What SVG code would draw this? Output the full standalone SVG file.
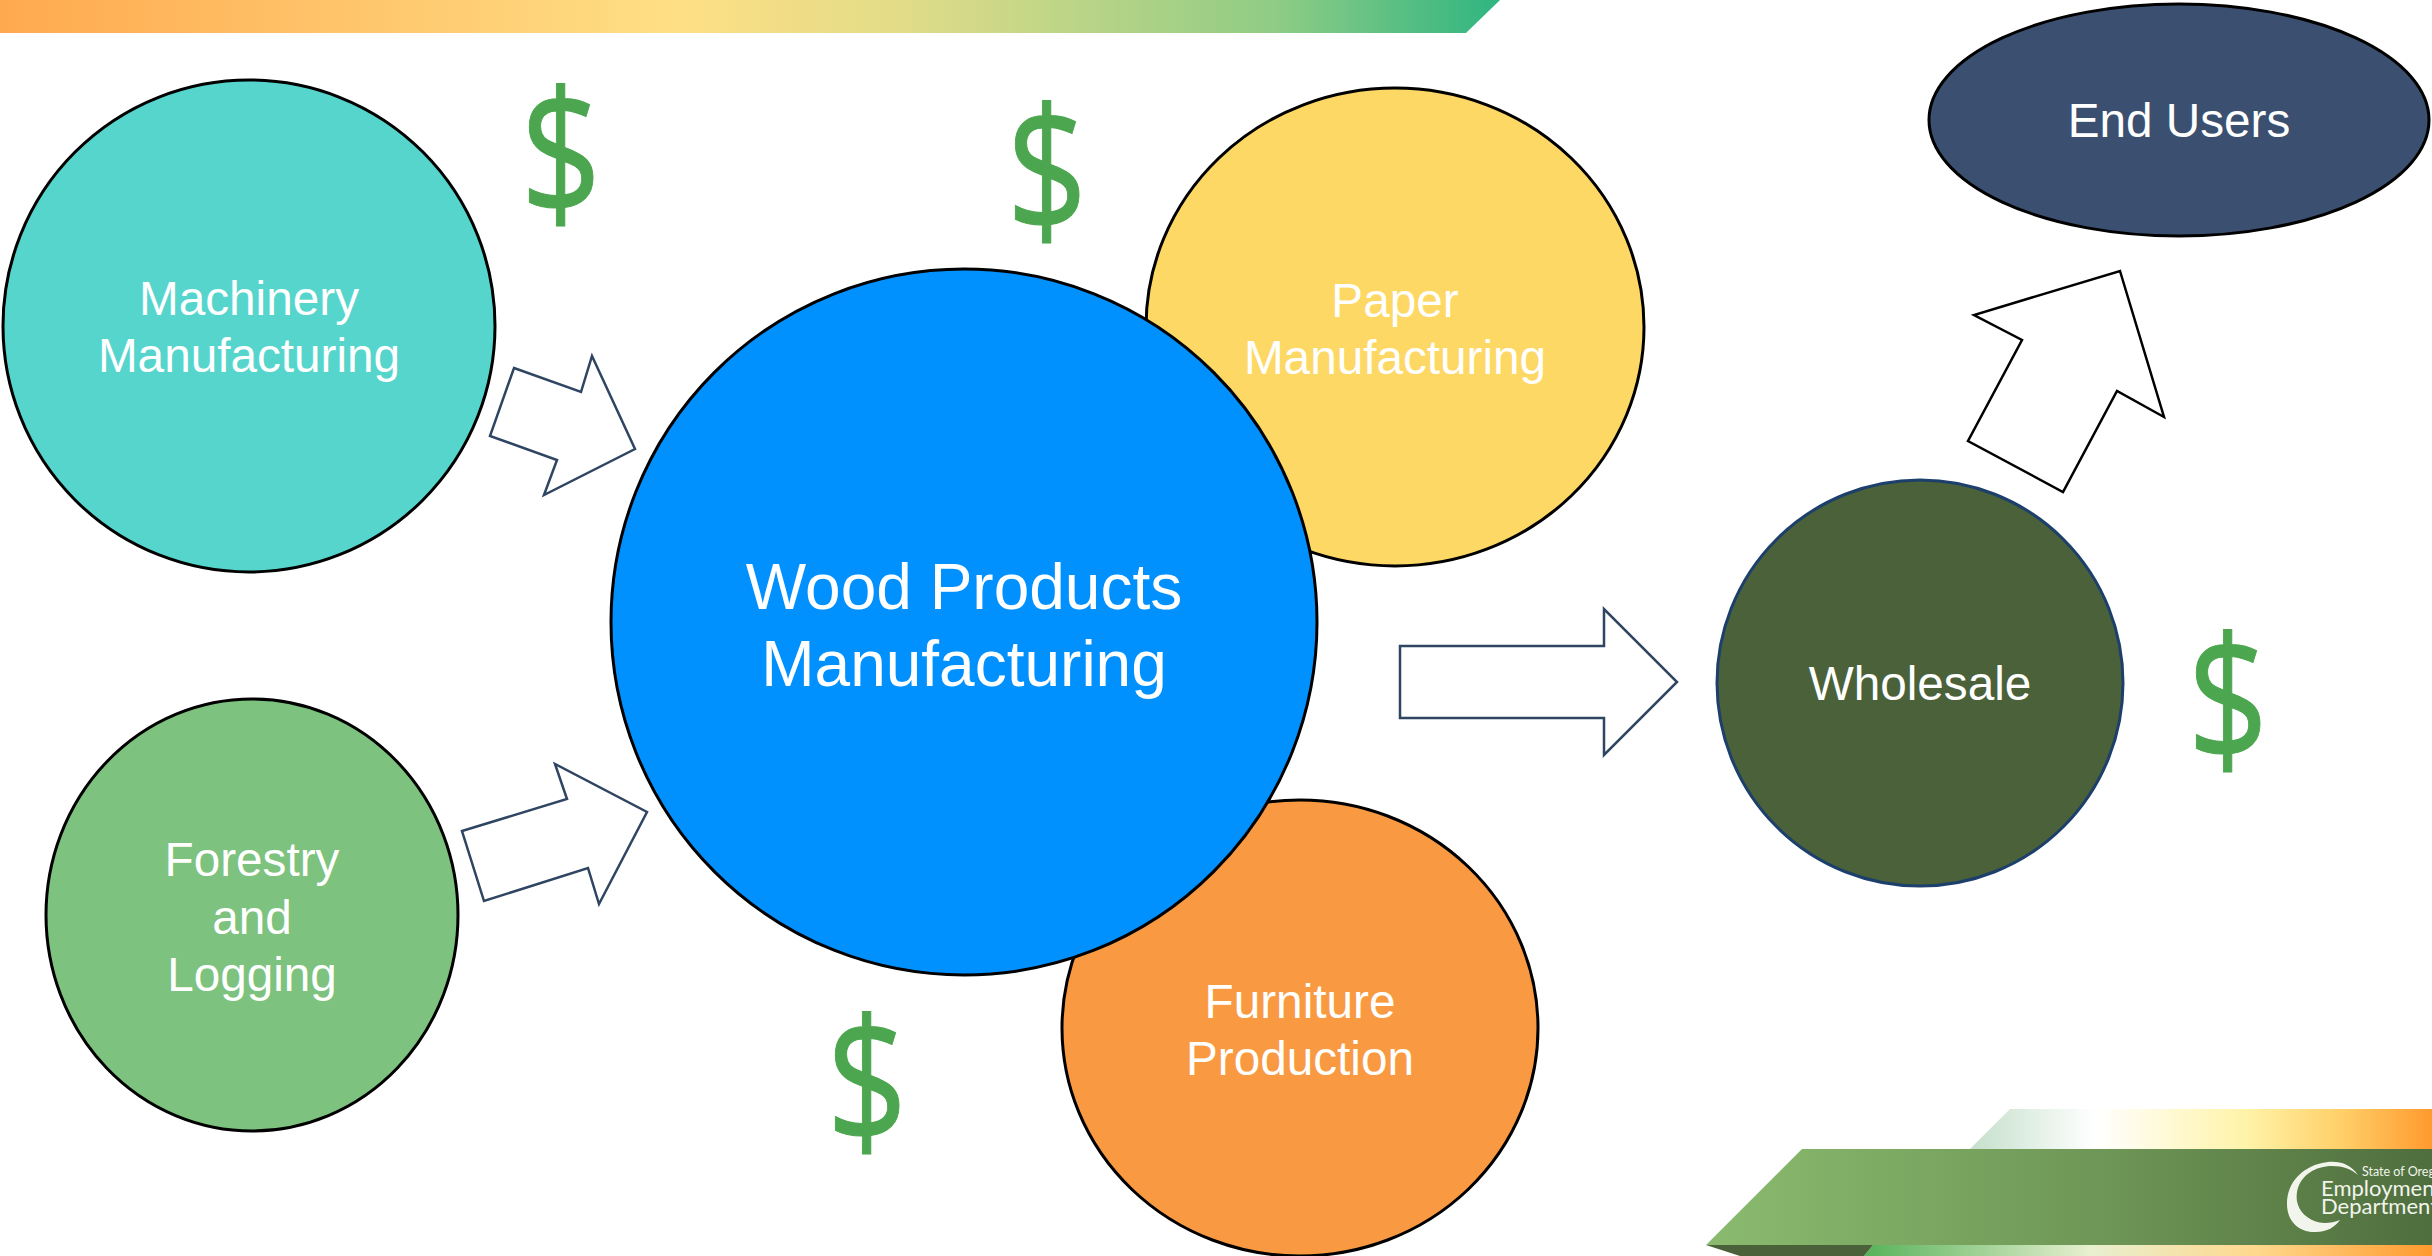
<svg xmlns="http://www.w3.org/2000/svg" width="2432" height="1256" viewBox="0 0 2432 1256">
<style>
.n{stroke:#000;stroke-width:3}
.t{font-family:"Liberation Sans",Arial,sans-serif;fill:#fff;font-size:47.7px;text-anchor:middle}
.d{font-family:"Open Sans",sans-serif;fill:#4CA64F;stroke:#4CA64F;stroke-width:1;font-size:165px;text-anchor:middle}
.a{fill:#fff;stroke:#2F4562;stroke-width:2.5;stroke-linejoin:miter}
.l{font-family:Lato,"Open Sans",sans-serif;fill:#F2F5EC}
</style>
<defs>
<linearGradient id="g1"><stop offset="0" stop-color="#FFA94F"/><stop offset=".45" stop-color="#FFDF85"/><stop offset=".6" stop-color="#E2DC88"/><stop offset=".85" stop-color="#8FCC85"/><stop offset="1" stop-color="#2FB581"/></linearGradient>
<linearGradient id="g2"><stop offset="0" stop-color="#C5DFCB"/><stop offset=".27" stop-color="#fff"/><stop offset=".6" stop-color="#FFF3A8"/><stop offset=".8" stop-color="#FFD06A"/><stop offset="1" stop-color="#FF9A2E"/></linearGradient>
<linearGradient id="g3"><stop offset="0" stop-color="#8ABB6F"/><stop offset=".55" stop-color="#6E9656"/><stop offset="1" stop-color="#4F6E3E"/></linearGradient>
<linearGradient id="g4"><stop offset="0" stop-color="#57B25A"/><stop offset=".4" stop-color="#E8F0D0"/><stop offset=".7" stop-color="#FFD78A"/><stop offset="1" stop-color="#FF9A2E"/></linearGradient>
</defs>
<rect width="2432" height="1256" fill="#fff"/>
<g id="decor">
<polygon points="0,0 1500,0 1466,33 0,33" fill="url(#g1)"/>
<polygon points="2010,1109 2432,1109 2432,1149 1970,1149" fill="url(#g2)"/>
<polygon points="1873,1245 2432,1245 2432,1256 1864,1256" fill="url(#g4)"/>
<polygon points="1706,1245 1873,1245 1864,1256 1740,1256" fill="#4A6139"/>
<polygon points="1802,1149 2432,1149 2432,1245 1706,1245" fill="url(#g3)"/>
<path d="M2358,1175C2350,1164 2340,1161 2328,1162C2303,1165 2287,1182 2287,1204C2287,1222 2300,1233 2316,1232C2327,1232 2335,1227 2340,1220C2330,1224 2320,1224 2312,1220C2300,1214 2295,1203 2297,1192C2300,1175 2316,1166 2332,1166C2343,1166 2351,1169 2358,1175Z" fill="#F2F5EC"/>
<text class="l" x="2362" y="1176" font-size="12.5">State of Oregon</text>
<text class="l" x="2321" y="1196" font-size="22">Employment</text>
<text class="l" x="2321" y="1214" font-size="22">Department</text>
</g>
<g id="connectors">
<polygon class="a" points="514,368 581,392 592,356 635,449 544,495 557,460 490,436"/>
<polygon class="a" points="462,831 567,799 555,764 647,812 599,904 588,868 484,901"/>
<polygon class="a" points="1400,646 1604,646 1604,609 1677,682 1604,755 1604,718 1400,718"/>
<polygon class="a" style="stroke:#000" points="2120,271 2164,417 2117,391 2063,492 1968,441 2022,340 1974,315"/>
</g>
<g id="paper"><ellipse class="n" cx="1395" cy="327" rx="249" ry="239" fill="#FDD865"/><text class="t" x="1395" y="317">Paper</text><text class="t" x="1395" y="374">Manufacturing</text></g>
<g id="furniture"><ellipse class="n" cx="1300" cy="1028" rx="238" ry="228" fill="#F99A42"/><text class="t" x="1300" y="1018">Furniture</text><text class="t" x="1300" y="1075">Production</text></g>
<g id="machinery"><circle class="n" cx="249" cy="326" r="246" fill="#56D5CD"/><text class="t" x="249" y="315">Machinery</text><text class="t" x="249" y="372">Manufacturing</text></g>
<g id="forestry"><ellipse class="n" cx="252" cy="915" rx="206" ry="216" fill="#7DC27E"/><text class="t" x="252" y="876">Forestry</text><text class="t" x="252" y="934">and</text><text class="t" x="252" y="991">Logging</text></g>
<g id="wood"><circle class="n" cx="964" cy="622" r="353" fill="#0091FF"/><text class="t" style="font-size:64px" x="964" y="609">Wood Products</text><text class="t" style="font-size:64px" x="964" y="686">Manufacturing</text></g>
<g id="wholesale"><circle cx="1920" cy="683" r="203" fill="#4A6139" stroke="#1D3F6B" stroke-width="3"/><text class="t" x="1920" y="700">Wholesale</text></g>
<g id="endusers"><ellipse class="n" cx="2179" cy="120" rx="250" ry="116" fill="#3B5070"/><text class="t" x="2179" y="137">End Users</text></g>
<g id="dollars">
<text class="d" transform="translate(561 215.5) scale(.86 1.06)">$</text>
<text class="d" transform="translate(1047 232.5) scale(.86 1.06)">$</text>
<text class="d" transform="translate(2228 761.5) scale(.86 1.06)">$</text>
<text class="d" transform="translate(867 1143.5) scale(.86 1.06)">$</text>
</g>
</svg>
